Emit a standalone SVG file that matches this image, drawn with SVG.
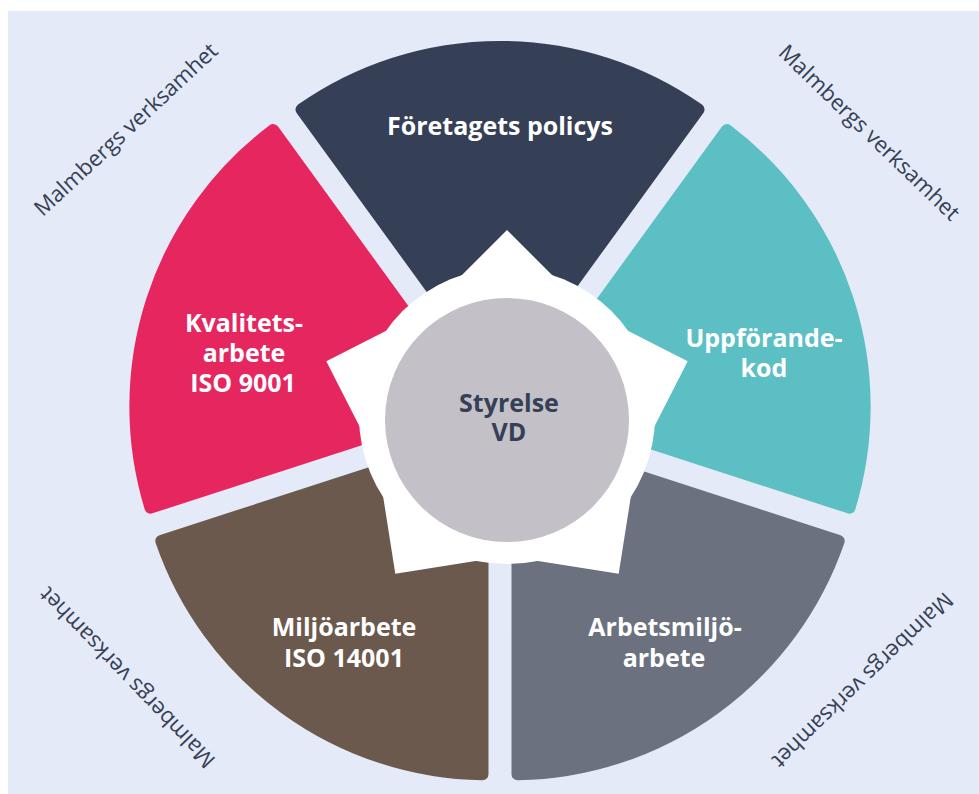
<svg xmlns="http://www.w3.org/2000/svg" width="979" height="794" viewBox="0 0 979 794">
  <style>
    .sector { stroke-width: 12; stroke-linejoin: round; }
    .lbl { font-family: "Open Sans", "Liberation Sans", sans-serif; font-weight: 700; font-size: 25px; fill: #ffffff; text-anchor: middle; }
    .ctr { font-family: "Open Sans", "Liberation Sans", sans-serif; font-weight: 700; font-size: 25px; fill: #353f55; text-anchor: middle; }
    .ring { font-family: "Open Sans", "Liberation Sans", sans-serif; font-weight: 400; font-size: 22px; fill: #353f55; text-anchor: middle; }
  </style>
  <rect x="0" y="0" width="979" height="794" fill="#ffffff"/>
  <rect x="8" y="11" width="971" height="783" fill="#e4eaf7"/>

  <g id="ring-labels">
    <text class="ring" transform="translate(131,135) rotate(-43)">Malmbergs verksamhet</text>
    <text class="ring" transform="translate(864,138) rotate(44)">Malmbergs verksamhet</text>
    <text class="ring" transform="translate(132.5,672.5) rotate(-134)">Malmbergs verksamhet</text>
    <text class="ring" transform="translate(857.5,675) rotate(136)">Malmbergs verksamhet</text>
  </g>

  <g id="foretagets-policys">
    <path class="sector" fill="#353f55" stroke="#353f55" transform="translate(500,412.5) rotate(0)" d="M0,-29.8 L-198.5,-303 A346,346 0 0 1 198.5,-303 Z"/>
    <text class="lbl" x="500" y="135">Företagets policys</text>
  </g>
  <g id="uppforandekod">
    <path class="sector" fill="#5cbfc3" stroke="#5cbfc3" transform="translate(500,412.5) rotate(72)" d="M0,-29.8 L-198.5,-303 A346,346 0 0 1 198.5,-303 Z"/>
    <text class="lbl" x="764" y="347">Uppförande-</text>
    <text class="lbl" x="764" y="377">kod</text>
  </g>
  <g id="arbetsmiljoarbete">
    <path class="sector" fill="#6b717e" stroke="#6b717e" transform="translate(500,412.5) rotate(144)" d="M0,-29.8 L-198.5,-303 A346,346 0 0 1 198.5,-303 Z"/>
    <text class="lbl" x="665" y="636">Arbetsmiljö-</text>
    <text class="lbl" x="664" y="667">arbete</text>
  </g>
  <g id="miljoarbete">
    <path class="sector" fill="#6c594d" stroke="#6c594d" transform="translate(500,412.5) rotate(216)" d="M0,-29.8 L-198.5,-303 A346,346 0 0 1 198.5,-303 Z"/>
    <text class="lbl" x="344" y="636">Miljöarbete</text>
    <text class="lbl" x="344" y="667">ISO 14001</text>
  </g>
  <g id="kvalitetsarbete">
    <path class="sector" fill="#e6265f" stroke="#e6265f" transform="translate(500,412.5) rotate(288)" d="M0,-29.8 L-198.5,-303 A346,346 0 0 1 198.5,-303 Z"/>
    <text class="lbl" x="244" y="332">Kvalitets-</text>
    <text class="lbl" x="244" y="362">arbete</text>
    <text class="lbl" x="243" y="392">ISO 9001</text>
  </g>

  <g id="connectors"/>

  <g id="styrelse-vd">
    <polygon fill="#ffffff" points="507,230 587,310 687.7,361.3 636.3,462 618.7,573.7 507,556 395.3,573.7 377.7,462 326.3,361.3 427,310"/>
    <circle cx="507" cy="416" r="148" fill="#ffffff"/>
    <circle cx="507" cy="420" r="122" fill="#c3c1c7"/>
    <text class="ctr" x="509" y="412">Styrelse</text>
    <text class="ctr" x="509" y="441">VD</text>
  </g>
</svg>
